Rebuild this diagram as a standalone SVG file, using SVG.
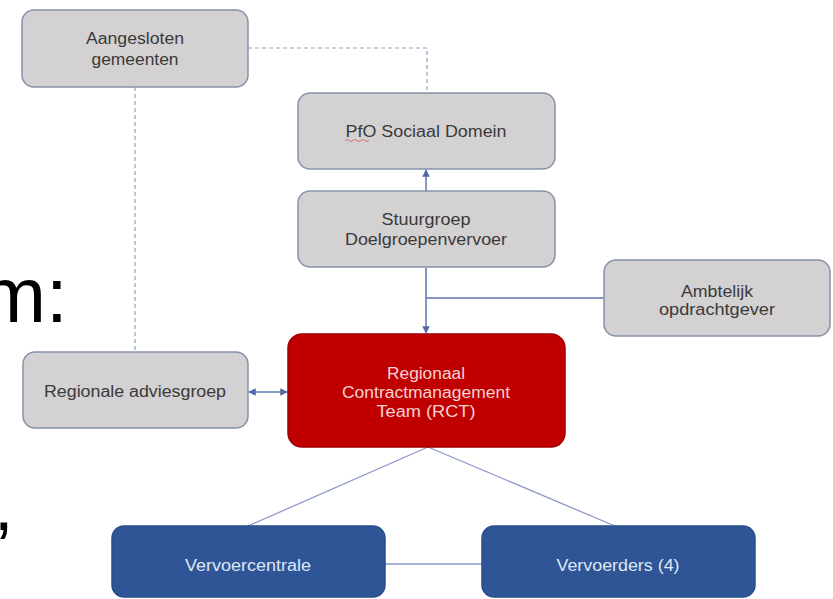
<svg xmlns="http://www.w3.org/2000/svg" width="833" height="599" viewBox="0 0 833 599">
<style>
.grey{fill:#d3d1d2;stroke:#8592a8;stroke-width:1.5}
.red{fill:#c00000;stroke:#a00000;stroke-width:1.5}
.blue{fill:#2f5597;stroke:#2a4e8c;stroke-width:1.5}
.t{font-family:"Liberation Sans",Arial,sans-serif;font-size:16px;text-anchor:middle}
.tg{fill:#3a3a3a}
.tr{fill:#f6d2d2}
.tb{fill:#dfe7f5}
.big{font-family:"Liberation Sans",Arial,sans-serif;fill:#000}
.dash{fill:none;stroke:#8fa1c4;stroke-width:1.2;stroke-dasharray:4 3}
.solid{fill:none;stroke:#5b76ad;stroke-width:1.5}
.thin{fill:none;stroke:#8d97c6;stroke-width:1.3}
</style>
<defs>
<marker id="ah" viewBox="0 0 10 10" refX="9" refY="5" markerWidth="5" markerHeight="5" orient="auto-start-reverse">
<path d="M0,0 L10,5 L0,10 z" fill="#4f6aa3"/>
</marker>
</defs>
<rect width="833" height="599" fill="#ffffff"/>
<text class="big" x="-19" y="322" font-size="78">m:</text>
<text class="big" x="-6" y="530" font-size="70">,</text>
<g id="connectors">
<path class="dash" d="M248,48 H427 V93"/>
<path class="dash" d="M135,87 V352"/>
<path class="solid" d="M426,191 V170" marker-end="url(#ah)"/>
<path class="solid" d="M426,268 V333" marker-end="url(#ah)"/>
<path class="solid" d="M426,298 H604"/>
<path class="solid" d="M249,392 H287" marker-start="url(#ah)" marker-end="url(#ah)"/>
<path class="thin" d="M428,447 L248,526"/>
<path class="thin" d="M428,447 L615,526"/>
<path class="thin" d="M385,564 H482" stroke="#b5bad8"/>
</g>
<g id="aangesloten">
<rect class="grey" x="22" y="10" width="226" height="77" rx="12"/>
<text class="t tg" x="135" y="44" textLength="98" lengthAdjust="spacingAndGlyphs">Aangesloten</text>
<text class="t tg" x="135" y="65" textLength="87" lengthAdjust="spacingAndGlyphs">gemeenten</text>
</g>
<g id="pfo">
<rect class="grey" x="298" y="93" width="257" height="76" rx="12"/>
<text class="t tg" x="426" y="137" textLength="161" lengthAdjust="spacingAndGlyphs">PfO Sociaal Domein</text>
<path d="M345,140.5 q2,-2 4,0 t4,0 t4,0 t4,0 t4,0 t4,0" fill="none" stroke="#e05050" stroke-width="0.8"/>
</g>
<g id="stuurgroep">
<rect class="grey" x="298" y="191" width="257" height="76" rx="12"/>
<text class="t tg" x="426" y="225" textLength="89" lengthAdjust="spacingAndGlyphs">Stuurgroep</text>
<text class="t tg" x="426" y="245" textLength="162" lengthAdjust="spacingAndGlyphs">Doelgroepenvervoer</text>
</g>
<g id="ambtelijk">
<rect class="grey" x="604" y="260" width="226" height="76" rx="12"/>
<text class="t tg" x="717" y="297" textLength="72" lengthAdjust="spacingAndGlyphs">Ambtelijk</text>
<text class="t tg" x="717" y="315" textLength="116" lengthAdjust="spacingAndGlyphs">opdrachtgever</text>
</g>
<g id="rct">
<rect class="red" x="288" y="334" width="277" height="113" rx="14"/>
<text class="t tr" x="426" y="379" textLength="78" lengthAdjust="spacingAndGlyphs">Regionaal</text>
<text class="t tr" x="426" y="398" textLength="168" lengthAdjust="spacingAndGlyphs">Contractmanagement</text>
<text class="t tr" x="426" y="417" textLength="99" lengthAdjust="spacingAndGlyphs">Team (RCT)</text>
</g>
<g id="adviesgroep">
<rect class="grey" x="23" y="352" width="225" height="76" rx="12"/>
<text class="t tg" x="135" y="397" textLength="182" lengthAdjust="spacingAndGlyphs">Regionale adviesgroep</text>
</g>
<g id="vervoercentrale">
<rect class="blue" x="112" y="526" width="273" height="71" rx="12"/>
<text class="t tb" x="248" y="571" textLength="126" lengthAdjust="spacingAndGlyphs">Vervoercentrale</text>
</g>
<g id="vervoerders">
<rect class="blue" x="482" y="526" width="273" height="71" rx="12"/>
<text class="t tb" x="618" y="571" textLength="123" lengthAdjust="spacingAndGlyphs">Vervoerders (4)</text>
</g>
</svg>
